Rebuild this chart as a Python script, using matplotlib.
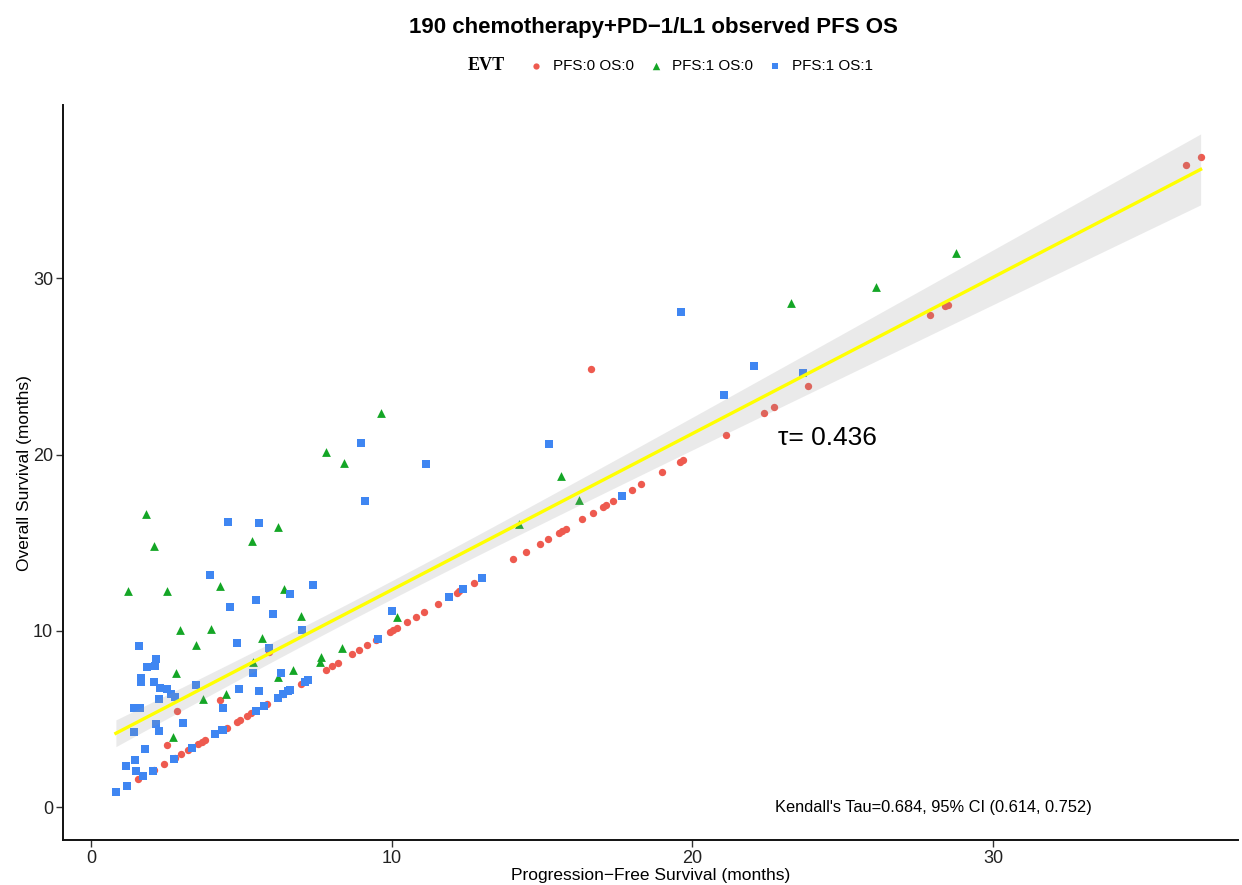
import numpy as np
import matplotlib
matplotlib.use("Agg")
import matplotlib.pyplot as plt

plt.rcParams['font.family'] = ['Liberation Sans', 'DejaVu Sans']

# PFS:0 OS:0 (censored for both)
pfs_00 = [1.57, 2.10, 2.44, 2.80, 3.00, 3.23, 3.57, 3.68, 3.79, 4.51, 4.85, 4.96,
          5.18, 5.31, 5.84, 6.40, 7.00, 7.80, 8.00, 8.20, 8.67, 8.92, 9.17, 9.47,
          9.94, 10.06, 10.17, 10.50, 10.80, 11.08, 11.53, 12.16, 12.25, 12.73,
          14.05, 14.47, 14.92, 15.21, 15.55, 15.67, 15.80, 16.34, 16.70, 17.04,
          17.12, 17.35, 18.00, 18.30, 19.00, 19.60, 19.68, 21.12, 22.38, 22.70,
          23.86, 27.90, 28.40, 28.50, 36.40, 36.90,
          2.53, 2.87, 4.30, 5.93, 16.63]
os_00 = [1.57, 2.10, 2.44, 2.80, 3.00, 3.23, 3.57, 3.68, 3.79, 4.51, 4.85, 4.96,
         5.18, 5.31, 5.84, 6.40, 7.00, 7.80, 8.00, 8.20, 8.67, 8.92, 9.17, 9.47,
         9.94, 10.06, 10.17, 10.50, 10.80, 11.08, 11.53, 12.16, 12.25, 12.73,
         14.05, 14.47, 14.92, 15.21, 15.55, 15.67, 15.80, 16.34, 16.70, 17.04,
         17.12, 17.35, 18.00, 18.30, 19.00, 19.60, 19.68, 21.12, 22.38, 22.70,
         23.86, 27.90, 28.40, 28.50, 36.40, 36.90,
         3.52, 5.46, 6.07, 8.80, 24.86]

# PFS:1 OS:0
pfs_10 = [1.23, 2.53, 4.30, 1.83, 2.10, 5.37, 6.23, 2.97, 4.00, 3.49, 2.83, 5.70,
          6.43, 7.00, 5.38, 6.23, 6.73, 7.65, 7.63, 8.34, 10.17, 4.48, 3.73, 2.74,
          7.80, 8.40, 9.63, 14.22, 15.63, 16.22, 23.27, 26.10, 28.77]
os_10 = [12.27, 12.27, 12.54, 16.62, 14.82, 15.09, 15.90, 10.04, 10.10, 9.21, 7.62, 9.59,
         12.38, 10.85, 8.24, 7.39, 7.77, 8.53, 8.24, 9.00, 10.80, 6.43, 6.13, 3.95,
         20.13, 19.53, 22.35, 16.05, 18.80, 17.40, 28.58, 29.50, 31.45]

# PFS:1 OS:1
pfs_11 = [0.83, 1.21, 1.18, 1.45, 1.51, 1.73, 1.81, 2.07, 2.75, 3.37, 4.12, 4.35,
          4.40, 5.48, 5.75, 6.23, 6.40, 6.56, 6.62, 7.12, 7.23, 9.55, 11.92, 12.38,
          12.99, 17.66,
          1.42, 1.63, 1.43, 2.18, 2.27, 3.07, 4.40, 1.61, 2.17, 1.87, 2.14, 1.67,
          1.67, 2.10, 2.30, 2.54, 2.66, 2.79, 2.27, 3.50, 4.91, 5.58, 5.38, 6.31,
          5.93, 4.85, 7.03, 6.07, 4.61, 5.48, 6.62, 7.37, 3.97, 4.55, 5.60, 8.97,
          9.13, 11.13, 10.00, 15.23, 19.62, 22.06, 21.06, 23.69]
os_11 = [0.83, 1.20, 2.33, 2.67, 2.02, 1.74, 3.29, 2.06, 2.74, 3.37, 4.12, 4.35,
         4.40, 5.46, 5.73, 6.20, 6.40, 6.56, 6.62, 7.12, 7.23, 9.55, 11.93, 12.38,
         12.99, 17.64,
         5.63, 5.63, 4.27, 4.69, 4.33, 4.78, 5.60, 9.15, 8.39, 7.92, 8.00, 7.30,
         7.10, 7.10, 6.75, 6.69, 6.41, 6.22, 6.13, 6.92, 6.69, 6.60, 7.62, 7.62,
         9.02, 9.32, 10.06, 10.93, 11.33, 11.72, 12.06, 12.61, 13.18, 16.20, 16.09, 20.63,
         17.36, 19.46, 11.12, 20.60, 28.06, 25.03, 23.36, 24.63]

labels = ['PFS:0 OS:0', 'PFS:1 OS:0', 'PFS:1 OS:1']
colors = ['#EE5A4F', '#14A626', '#3F86F2']

title = "190 chemotherapy+PD\u22121/L1 observed PFS OS"
tau_text = "\u03c4= 0.436"
kendall_text = "Kendall's Tau=0.684, 95% CI (0.614, 0.752)"
t_crit = 1.973

fig = plt.figure(figsize=(12.42, 8.85), dpi=100)
ax = fig.add_axes([0.0507, 0.0508, 0.946, 0.830])

h1 = ax.scatter(pfs_00, os_00, s=28, marker='o', color=colors[0], linewidths=0, zorder=2)
h2 = ax.scatter(pfs_10, os_10, s=40, marker='^', color=colors[1], linewidths=0, zorder=2)
h3 = ax.scatter(pfs_11, os_11, s=32, marker='s', color=colors[2], linewidths=0, zorder=2)

# linear fit with 95% CI (like geom_smooth(method='lm'))
x_all = np.array(pfs_00 + pfs_10 + pfs_11)
y_all = np.array(os_00 + os_10 + os_11)
n = len(x_all)
slope, intercept = np.polyfit(x_all, y_all, 1)
resid = y_all - (intercept + slope * x_all)
s = np.sqrt(np.sum(resid ** 2) / (n - 2))
xbar = x_all.mean()
sxx = np.sum((x_all - xbar) ** 2)
xs = np.linspace(x_all.min(), x_all.max(), 100)
ys = intercept + slope * xs
half = t_crit * s * np.sqrt(1 / n + (xs - xbar) ** 2 / sxx)
ax.fill_between(xs, ys - half, ys + half, color='#999999', alpha=0.2, linewidth=0, zorder=3)
ax.plot(xs, ys, color='#FFFF00', linewidth=2.4, zorder=4)

ax.text(22.85, 20.93, tau_text, fontsize=19, va='center', ha='left')
ax.text(22.75, 0.0, kendall_text, fontsize=11.8, va='center', ha='left')

ax.set_xlim(-0.93, 38.14)
ax.set_ylim(-1.87, 39.8)
ax.set_xticks([0, 10, 20, 30])
ax.set_yticks([0, 10, 20, 30])
ax.tick_params(labelsize=13, length=5, width=1, pad=2, color='#333333', labelcolor='#222222')
for side in ['top', 'right']:
    ax.spines[side].set_visible(False)
for side in ['left', 'bottom']:
    ax.spines[side].set_linewidth(1.4)
    ax.spines[side].set_color('#111111')

ax.set_xlabel("Progression\u2212Free Survival (months)", fontsize=12.5, labelpad=1)
ax.set_ylabel("Overall Survival (months)", fontsize=12.5, labelpad=1)

fig.text(653 / 1242, 1 - 27 / 885, title, fontsize=16, fontweight='bold',
         ha='center', va='center')
fig.text(486 / 1242, 1 - 66 / 885, "EVT", family='Liberation Serif', fontsize=13,
         fontweight='bold', ha='center', va='center')
fig.legend([h1, h2, h3], labels, loc='center', bbox_to_anchor=(700 / 1242, 1 - 66 / 885),
           ncol=3, frameon=False, fontsize=11, handletextpad=0.5, columnspacing=0.8,
           markerscale=0.85, handlelength=1.2)

fig.savefig('out.png', dpi=100)
